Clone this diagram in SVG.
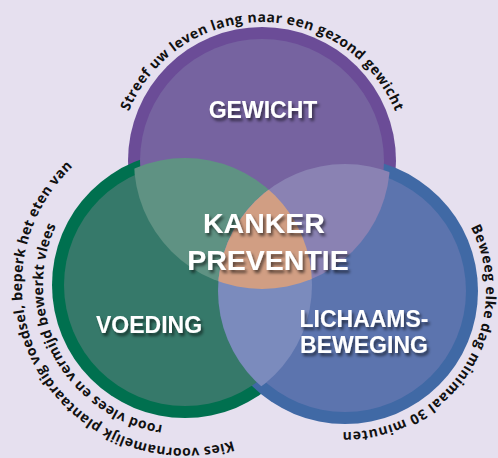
<svg xmlns="http://www.w3.org/2000/svg" width="498" height="458" viewBox="0 0 498 458">
<style>
.arc{font-family:"Open Sans","DejaVu Sans",sans-serif;font-weight:700;font-size:14px;fill:#111111;}
.lbl{font-family:"Liberation Sans",Arial,sans-serif;font-weight:700;font-size:23px;fill:#ffffff;text-anchor:middle;filter:url(#sh);}
.big{font-size:28.5px;}
</style>
<defs>
<filter id="sh" filterUnits="userSpaceOnUse" x="0" y="0" width="498" height="458">
<feDropShadow dx="2" dy="3" stdDeviation="1.8" flood-color="#000" flood-opacity="0.55"/>
</filter>
<clipPath id="cP"><circle cx="262" cy="161" r="128"/></clipPath>
<clipPath id="cG"><circle cx="185" cy="285" r="127"/></clipPath>
<path id="tTop" d="M126.7,116.8 A144,144 0 0 1 397.3,116.8"/>
<path id="tRight" d="M470.6,227 A141,141 0 0 1 320.5,429.9"/>
<path id="tLeftOut" d="M232.7,440.9 A163,163 0 0 1 80.2,160.1"/>
<path id="tLeftIn" d="M162.8,425.3 A142,142 0 0 1 62,214"/>
</defs>
<rect width="498" height="458" fill="#e6e0ef"/>
<g id="rings">
<circle id="ring-gewicht" cx="262" cy="161" r="134" fill="#6b4c97"/>
<circle id="ring-voeding" cx="185" cy="285" r="133" fill="#00704f"/>
<circle id="ring-beweging" cx="345" cy="291" r="133" fill="#4069a5"/>
</g>
<g id="gewicht">
<circle cx="262" cy="161" r="122" fill="#7663a0"/>
</g>
<g id="voeding">
<circle cx="185" cy="285" r="121" fill="#36796a"/>
</g>
<g id="beweging">
<circle cx="345" cy="291" r="121" fill="#5c74ae"/>
</g>
<g id="overlaps">
<circle cx="185" cy="285" r="127" fill="#5f9283" clip-path="url(#cP)"/>
<circle cx="345" cy="291" r="127" fill="#8a82b3" clip-path="url(#cP)"/>
<circle cx="345" cy="291" r="127" fill="#7b8bbd" clip-path="url(#cG)"/>
<g id="kanker-preventie" clip-path="url(#cP)">
<circle cx="345" cy="291" r="127" fill="#d19e83" clip-path="url(#cG)"/>
</g>
</g>
<g id="labels">
<text class="lbl" x="263" y="118">GEWICHT</text>
<text class="lbl big" x="264" y="233">KANKER</text>
<text class="lbl big" x="268" y="270">PREVENTIE</text>
<text class="lbl" x="149" y="333">VOEDING</text>
<text class="lbl" x="364" y="327">LICHAAMS-</text>
<text class="lbl" x="364" y="353">BEWEGING</text>
</g>
<g id="arc-texts">
<text class="arc"><textPath href="#tTop" startOffset="50%" text-anchor="middle" textLength="340">Streef uw leven lang naar een gezond gewicht</textPath></text>
<text class="arc"><textPath href="#tRight" startOffset="0" textLength="290">Beweeg elke dag minimaal 30 minuten</textPath></text>
<text class="arc"><textPath href="#tLeftOut" startOffset="0" textLength="437">Kies voornamelijk plantaardig voedsel, beperk het eten van</textPath></text>
<text class="arc"><textPath href="#tLeftIn" startOffset="0" textLength="262">rood vlees en vermijd bewerkt vlees</textPath></text>
</g>
</svg>
